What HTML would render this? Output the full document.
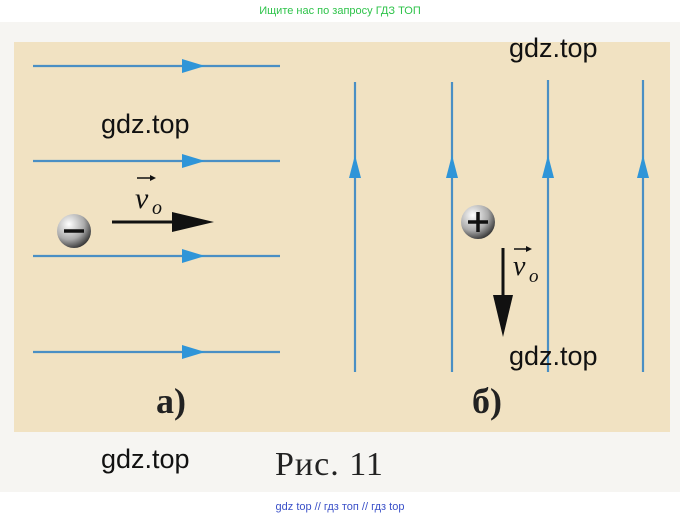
<!DOCTYPE html>
<html><head><meta charset="utf-8"><style>
body{margin:0;background:#fff;width:680px;height:518px;overflow:hidden}
</style></head><body>
<svg width="680" height="518" viewBox="0 0 680 518" xmlns="http://www.w3.org/2000/svg">
<rect x="0" y="22" width="680" height="470" fill="#f6f5f2"/>
<rect x="14" y="42" width="656" height="390" fill="#f1e2c2"/>
<text x="340" y="14" font-family="Liberation Sans, sans-serif" font-size="11" fill="#2ec34a" text-anchor="middle">Ищите нас по запросу ГДЗ ТОП</text>
<g stroke="#4a8fc4" stroke-width="2.2">
<line x1="33" y1="66" x2="280" y2="66"/><line x1="33" y1="161" x2="280" y2="161"/>
<line x1="33" y1="256" x2="280" y2="256"/><line x1="33" y1="352" x2="280" y2="352"/>
<line x1="355" y1="82" x2="355" y2="372"/><line x1="452" y1="82" x2="452" y2="372"/>
<line x1="548" y1="80" x2="548" y2="372"/><line x1="643" y1="80" x2="643" y2="372"/>
</g>
<g fill="#2f95d8">
<polygon points="182,59 205,66 182,73"/><polygon points="182,154 205,161 182,168"/>
<polygon points="182,249 205,256 182,263"/><polygon points="182,345 205,352 182,359"/>
<polygon points="349,178 355,155 361,178"/><polygon points="446,178 452,155 458,178"/>
<polygon points="542,178 548,155 554,178"/><polygon points="637,178 643,155 649,178"/>
</g>
<defs><radialGradient id="g" cx="0.35" cy="0.3" r="0.75"><stop offset="0" stop-color="#fff"/><stop offset="0.6" stop-color="#aaa"/><stop offset="1" stop-color="#333"/></radialGradient></defs>
<circle cx="74" cy="231" r="17" fill="url(#g)"/>
<line x1="64" y1="231" x2="84" y2="231" stroke="#111" stroke-width="3.5"/>
<line x1="112" y1="222" x2="175" y2="222" stroke="#111" stroke-width="3"/>
<polygon points="172,212 214,222 172,232" fill="#111"/>
<text x="135" y="208" font-family="Liberation Serif, serif" font-style="italic" font-size="30" fill="#111">v</text>
<text x="152" y="214" font-family="Liberation Serif, serif" font-style="italic" font-size="20" fill="#111">o</text>
<line x1="137" y1="178" x2="150" y2="178" stroke="#111" stroke-width="1.5"/><polygon points="150,175 156,178 150,181" fill="#111"/>
<circle cx="478" cy="222" r="17" fill="url(#g)"/>
<line x1="468" y1="222" x2="488" y2="222" stroke="#111" stroke-width="3.5"/>
<line x1="478" y1="212" x2="478" y2="232" stroke="#111" stroke-width="3.5"/>
<line x1="503" y1="248" x2="503" y2="300" stroke="#111" stroke-width="3"/>
<polygon points="493,295 503,337 513,295" fill="#111"/>
<text x="513" y="275" font-family="Liberation Serif, serif" font-style="italic" font-size="28" fill="#111">v</text>
<text x="529" y="282" font-family="Liberation Serif, serif" font-style="italic" font-size="19" fill="#111">o</text>
<line x1="514" y1="249" x2="526" y2="249" stroke="#111" stroke-width="1.5"/><polygon points="526,246 532,249 526,252" fill="#111"/>
<text x="156" y="413" font-family="Liberation Serif, serif" font-weight="bold" font-size="36" fill="#222">а)</text>
<text x="472" y="413" font-family="Liberation Serif, serif" font-weight="bold" font-size="36" fill="#222">б)</text>
<text x="275" y="475" font-family="Liberation Serif, serif" font-size="34" fill="#222" letter-spacing="1">Рис. 11</text>
<g font-family="Liberation Sans, sans-serif" font-size="27" fill="#111">
<text x="509" y="57">gdz.top</text><text x="101" y="133">gdz.top</text>
<text x="509" y="365">gdz.top</text><text x="101" y="468">gdz.top</text>
</g>
<text x="340" y="510" font-family="Liberation Sans, sans-serif" font-size="11" fill="#3a50c8" text-anchor="middle">gdz top  //  гдз топ  //  гдз top</text>
</svg>
</body></html>
